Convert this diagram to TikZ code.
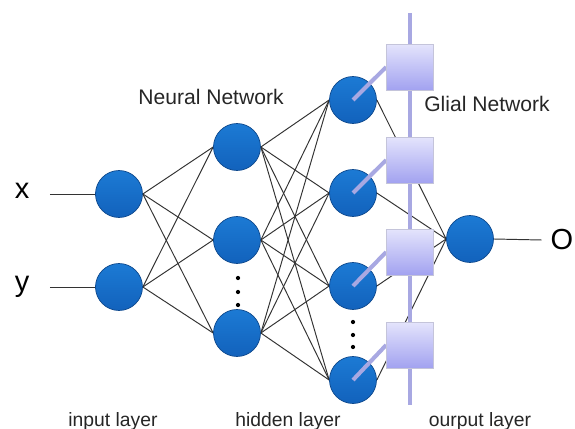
\documentclass[tikz,border=0pt]{standalone}
\usepackage{fontspec}
\setmainfont{Liberation Sans}
\usepackage{tikz}
\usetikzlibrary{backgrounds}
\usepackage{xcolor}
\definecolor{nnblue}{RGB}{28,122,212}
\definecolor{nnbluelow}{RGB}{18,98,188}
\definecolor{nnrim}{RGB}{14,72,140}
\definecolor{glialav}{RGB}{168,168,226}
\definecolor{gliatop}{RGB}{228,228,252}
\definecolor{gliabottom}{RGB}{162,162,240}
\definecolor{gliarim}{RGB}{196,196,218}
\definecolor{txtgray}{RGB}{38,38,38}
\tikzstyle{neuron} = [circle, minimum size=0.94cm, inner sep=0pt, draw=nnrim, top color=nnblue, bottom color=nnbluelow, thin]
\tikzstyle{glia} = [rectangle, minimum width=0.94cm, minimum height=0.92cm, inner sep=0pt, draw=gliarim, top color=gliatop, bottom color=gliabottom]
\tikzstyle{synapse} = [black!80, line width=0.55pt]
\tikzstyle{glialine} = [glialav, line width=2.3pt]
\tikzstyle{term} = [font=\fontsize{16.5}{18}\selectfont, inner ysep=0pt, text=black]
\tikzstyle{caption} = [font=\fontsize{11}{13}\selectfont, text=txtgray, anchor=base, inner sep=0pt]
\tikzstyle{title} = [font=\fontsize{12}{14}\selectfont, text=txtgray, anchor=base, inner sep=0pt]

\begin{document}
\begin{tikzpicture}[x=0.02cm, y=-0.02cm]
\useasboundingbox (0,0) rectangle (575,429);

% Input layer
\node[neuron] (i1) at (119,194) {};
\node[neuron] (i2) at (119,287) {};
\node[term, anchor=mid, inner xsep=11.6pt] (lx) at (22,194) {x};
\node[term, anchor=mid, inner xsep=11.6pt] (ly) at (22,287) {y};

% Hidden layers
\foreach \n/\y in {1/147,2/240,3/333}
    \node[neuron] (a\n) at (237,\y) {};
\foreach \n/\y in {1/100,2/193,3/286,4/380}
    \node[neuron] (b\n) at (353,\y) {};

% Output layer
\node[neuron] (out) at (470,239) {};
\node[term, inner xsep=5pt] (lo) at (562,240) {O};

% Glial cells
\foreach \n/\y in {1/67,2/160,3/252,4/345}
    \node[glia] (g\n) at (410,\y) {};
\coordinate (gtop) at (410,13);
\coordinate (gbot) at (410,405);

% Connections
\begin{pgfonlayer}{background}
\draw[synapse] (lx.mid east) -- (i1.west);
\draw[synapse] (ly.mid east) -- (i2.west);
\foreach \i in {1,2}
    \foreach \j in {1,2,3}
        \draw[synapse] (i\i.east) -- (a\j.west);
\foreach \i in {1,2,3}
    \foreach \j in {1,2,3,4}
        \draw[synapse] (a\i.east) -- (b\j.west);
\foreach \i in {1,2,3,4}
    \draw[synapse] (b\i.east) -- (out.west);
\draw[synapse] (out.east) -- (lo.west);
\draw[glialine] (gtop) -- (gbot);
\end{pgfonlayer}

% Glia to neurons
\foreach \n in {1,2,3,4}
    \draw[glialine] (b\n.center) -- (g\n.west);
\foreach \n in {1,2,3,4}
    \node[glia] at (g\n) {};

% Dots
\foreach \y in {278,292,305}
    \fill (238,\y) circle (1.2pt);
\foreach \y in {322,335,347}
    \fill (353,\y) circle (1.2pt);

% Labels
\node[title] (nn) at (211,105) {Neural Network};
\node[title] (gn) at (487,112) {Glial Network};
\node[caption] (cin) at (113,426) {input layer};
\node[caption] (chid) at (288,426) {hidden layer};
\node[caption] (cout) at (480,426) {ourput layer};
\end{tikzpicture}
\end{document}
